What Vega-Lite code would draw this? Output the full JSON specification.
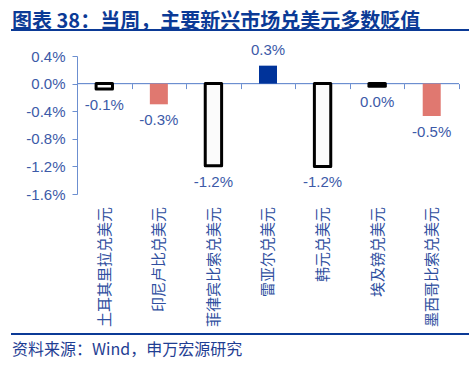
{
  "$schema": "https://vega.github.io/schema/vega-lite/v6.json",
  "background": "white",
  "padding": {"left": 5, "top": 11, "right": 0, "bottom": 0},
  "config": {
    "view": {"stroke": null},
    "font": "Liberation Sans",
    "locale": {"number": {"decimal": ".", "thousands": ",", "grouping": [3], "currency": ["", ""], "minus": "-"}}
  },
  "spacing": 5,
  "vconcat": [
    {
      "width": 460,
      "height": 0.01,
      "view": {"stroke": "#0B3A96", "strokeWidth": 2},
      "title": {"text": "图表 38：当周，主要新兴市场兑美元多数贬值", "anchor": "start", "frame": "group", "font": "Noto Sans CJK SC", "fontSize": 20, "fontWeight": "bold", "color": "#0B3A96", "offset": -8},
      "data": {"values": [{}]},
      "mark": {"type": "text"},
      "encoding": {"text": {"value": ""}}
    },
    {
      "spacing": 0,
      "vconcat": [
        {
          "width": 460,
          "height": 138,
          "data": {"values": [
            {"currency": "土耳其里拉兑美元", "change": -0.0008, "group": "outline"},
            {"currency": "印尼卢比兑美元", "change": -0.003, "group": "salmon"},
            {"currency": "菲律宾比索兑美元", "change": -0.0119, "group": "outline"},
            {"currency": "雷亚尔兑美元", "change": 0.0026, "group": "blue"},
            {"currency": "韩元兑美元", "change": -0.012, "group": "outline"},
            {"currency": "埃及镑兑美元", "change": -0.0004, "group": "outline"},
            {"currency": "墨西哥比索兑美元", "change": -0.0047, "group": "salmon"}
          ]},
          "encoding": {
            "x": {
              "field": "currency", "type": "nominal", "sort": null,
              "scale": {"domain": ["土耳其里拉兑美元", "印尼卢比兑美元", "菲律宾比索兑美元", "雷亚尔兑美元", "韩元兑美元", "埃及镑兑美元", "墨西哥比索兑美元"], "paddingInner": 0, "paddingOuter": 0.7147, "align": 0.8333},
              "axis": {
                "orient": "bottom", "offset": -110.4, "title": null, "domain": false,
                "tickColor": "#6C8FD0", "tickSize": 5, "tickBand": "extent",
                "labelAngle": -90, "labelAlign": "right", "labelBaseline": "middle",
                "labelFont": "Noto Sans CJK SC", "labelFontSize": 15, "labelColor": "#2F4FA0", "labelPadding": 118
              }
            },
            "y": {
              "field": "change", "type": "quantitative",
              "scale": {"domain": [-0.016, 0.004], "nice": false, "zero": false},
              "axis": {
                "title": null, "grid": false, "format": ".1%", "offset": -65,
                "values": [-0.016, -0.012, -0.008, -0.004, 0, 0.004],
                "domainColor": "#6C8FD0", "tickColor": "#6C8FD0", "tickSize": 5,
                "labelFontSize": 15, "labelColor": "#3C5AA8", "labelPadding": 7
              }
            }
          },
          "layer": [
            {
              "mark": {"type": "bar", "width": {"band": 1}, "fill": null, "stroke": "#6C8FD0", "strokeWidth": 1},
              "encoding": {"y": {"datum": 0}, "y2": {"datum": 0}}
            },
            {
              "transform": [{"filter": "datum.group === 'outline'"}],
              "mark": {"type": "bar", "width": {"band": 0.3}, "fill": "#FBFBFB", "stroke": "#000000", "strokeWidth": 3, "strokeJoin": "round"}
            },
            {
              "transform": [{"filter": "datum.group !== 'outline'"}],
              "mark": {"type": "bar", "width": {"band": 0.33}},
              "encoding": {
                "color": {"field": "group", "type": "nominal", "scale": {"domain": ["salmon", "blue"], "range": ["#E07870", "#00339A"]}, "legend": null}
              }
            },
            {
              "transform": [{"filter": "datum.change < 0"}],
              "mark": {"type": "text", "baseline": "top", "dy": 9, "fontSize": 15, "color": "#3C5AA8"},
              "encoding": {"text": {"field": "change", "type": "quantitative", "format": ".1%"}}
            },
            {
              "transform": [{"filter": "datum.change >= 0"}],
              "mark": {"type": "text", "baseline": "bottom", "dy": -8, "fontSize": 15, "color": "#3C5AA8"},
              "encoding": {"text": {"field": "change", "type": "quantitative", "format": ".1%"}}
            }
          ]
        },
        {
          "width": 460,
          "height": 0.01,
          "view": {"stroke": "#0B3A96", "strokeWidth": 2},
          "title": {"text": "资料来源：Wind，申万宏源研究", "orient": "bottom", "anchor": "start", "frame": "group", "font": "Noto Sans CJK SC", "fontSize": 16, "fontWeight": "normal", "color": "#1F3E93", "offset": 3},
          "data": {"values": [{}]},
          "mark": {"type": "text"},
          "encoding": {"text": {"value": ""}}
        }
      ]
    }
  ]
}
